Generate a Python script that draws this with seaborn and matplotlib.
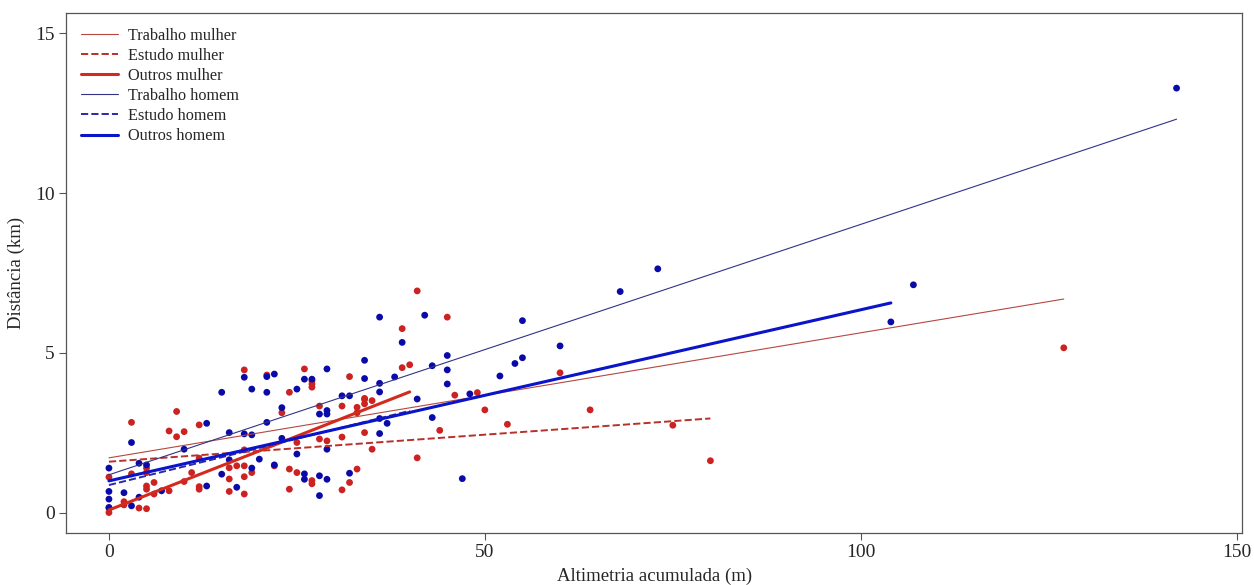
import numpy as np
import pandas as pd
import matplotlib
matplotlib.use("Agg")
import matplotlib.pyplot as plt
from matplotlib.lines import Line2D
import seaborn as sns

# pontos: altimetria acumulada (m) e distância (km)
x_mulher = [3, 9, 8, 10, 9, 12, 0, 3, 5, 5, 12, 11, 5, 5, 6, 6, 8, 10, 12, 12,
            0, 0, 2, 2, 4, 5, 16, 16, 16, 18, 21, 26, 27, 27, 27, 24, 32, 23, 28, 31,
            33, 34, 33, 18, 25, 28, 29, 31, 17, 18, 18, 19, 22, 24, 25, 27, 27, 24, 18, 31,
            32, 33, 41, 45, 39, 39, 40, 34, 34, 35, 46, 49, 50, 34, 44, 35, 41, 60, 53, 64,
            75, 80, 127]
y_mulher = [2.83, 3.17, 2.56, 2.54, 2.38, 2.75, 1.12, 1.22, 1.40, 1.26, 1.71, 1.26, 0.84, 0.74, 0.95, 0.59, 0.69, 0.98, 0.82, 0.74,
            0.15, 0.01, 0.35, 0.25, 0.15, 0.13, 1.41, 1.06, 0.67, 4.47, 4.31, 4.50, 4.13, 4.03, 3.93, 3.77, 4.26, 3.13, 3.34, 3.34,
            3.30, 3.55, 3.13, 1.97, 2.20, 2.31, 2.25, 2.37, 1.47, 1.47, 1.13, 1.26, 1.47, 1.37, 1.26, 1.01, 0.91, 0.74, 0.59, 0.72,
            0.95, 1.37, 6.94, 6.12, 5.76, 4.54, 4.63, 3.58, 3.41, 3.51, 3.68, 3.76, 3.22, 2.51, 2.58, 1.99, 1.72, 4.38, 2.77, 3.22,
            2.74, 1.63, 5.16]

x_homem = [15, 13, 3, 16, 10, 4, 5, 0, 15, 0, 2, 0, 7, 4, 13, 0, 3, 16, 18, 22,
           21, 26, 27, 29, 19, 21, 25, 31, 32, 23, 28, 29, 29, 21, 18, 19, 23, 25, 29, 20,
           19, 22, 17, 26, 26, 28, 29, 32, 28, 36, 42, 39, 34, 45, 34, 36, 36, 38, 43, 45,
           45, 41, 48, 36, 37, 43, 36, 47, 52, 73, 68, 55, 60, 54, 55, 142, 107, 104]
y_homem = [3.77, 2.80, 2.20, 2.51, 1.99, 1.55, 1.50, 1.40, 1.21, 0.67, 0.63, 0.43, 0.69, 0.49, 0.84, 0.17, 0.22, 1.66, 4.24, 4.34,
           4.26, 4.18, 4.18, 4.50, 3.87, 3.77, 3.87, 3.66, 3.66, 3.29, 3.09, 3.20, 3.09, 2.83, 2.47, 2.44, 2.33, 1.84, 1.99, 1.68,
           1.40, 1.50, 0.80, 1.22, 1.05, 1.16, 1.05, 1.24, 0.54, 6.12, 6.18, 5.33, 4.77, 4.92, 4.20, 4.05, 3.78, 4.25, 4.60, 4.47,
           4.03, 3.56, 3.72, 2.95, 2.80, 2.98, 2.48, 1.07, 4.28, 7.63, 6.92, 6.01, 5.22, 4.67, 4.85, 13.28, 7.13, 5.97]

# retas ajustadas por motivo e sexo
grupos = ["Trabalho mulher", "Estudo mulher", "Outros mulher",
          "Trabalho homem", "Estudo homem", "Outros homem"]
intercepto = [1.72, 1.60, 0.09, 1.19, 0.87, 1.00]
inclinacao = [0.0391, 0.0169, 0.0923, 0.0783, 0.058, 0.0535]
x_max = [127, 80, 40, 142, 40, 104]

cores = ["#b5473f", "#b8302a", "#d42a1e", "#333388", "#2a2aa8", "#0a14c8"]
estilos = ["-", "--", "-", "-", "--", "-"]
larguras = [0.8, 1.4, 2.2, 0.8, 1.4, 2.2]

sns.set_theme(style="white")
plt.rcParams['font.family'] = ['Liberation Serif', 'DejaVu Serif']

pontos = pd.concat([
    pd.DataFrame({"alt": x_mulher, "dist": y_mulher, "sexo": "mulher"}),
    pd.DataFrame({"alt": x_homem, "dist": y_homem, "sexo": "homem"}),
])

fig = plt.figure(figsize=(12.54, 5.85), dpi=100)
ax = fig.add_axes([0.053, 0.0894, 0.9374, 0.8879])

sns.scatterplot(data=pontos, x="alt", y="dist", hue="sexo",
                palette={"mulher": "#cc2222", "homem": "#0a0aa8"},
                s=24, linewidth=0, legend=False, ax=ax, zorder=2)

handles = []
for i, g in enumerate(grupos):
    xs = [0, x_max[i]]
    ys = [intercepto[i], intercepto[i] + inclinacao[i] * x_max[i]]
    sns.lineplot(x=xs, y=ys, color=cores[i], linestyle=estilos[i],
                 linewidth=larguras[i], ax=ax, zorder=3)
    handles.append(Line2D([0], [0], color=cores[i], linestyle=estilos[i],
                          linewidth=larguras[i]))

ax.set_xlim(-5.65, 150.7)
ax.set_ylim(-0.62, 15.62)
ax.set_xticks([0, 50, 100, 150])
ax.set_yticks([0, 5, 10, 15])
ax.tick_params(axis="both", which="major", direction="out", length=5,
               width=0.8, color="#555555", labelsize=14, bottom=True, left=True)
ax.tick_params(axis="x", pad=3)
for sp in ax.spines.values():
    sp.set_color("#555555")
    sp.set_linewidth(0.9)

ax.set_xlabel("Altimetria acumulada (m)", fontsize=13.5, labelpad=5)
ax.set_ylabel("Distância (km)", fontsize=13.5, labelpad=7)

ax.legend(handles, grupos, loc="upper left", frameon=False, fontsize=11.7,
          handlelength=2.3, labelspacing=0.25, handletextpad=0.6,
          bbox_to_anchor=(0.0, 1.0), borderaxespad=0.5)

fig.savefig("out.png", dpi=100)
